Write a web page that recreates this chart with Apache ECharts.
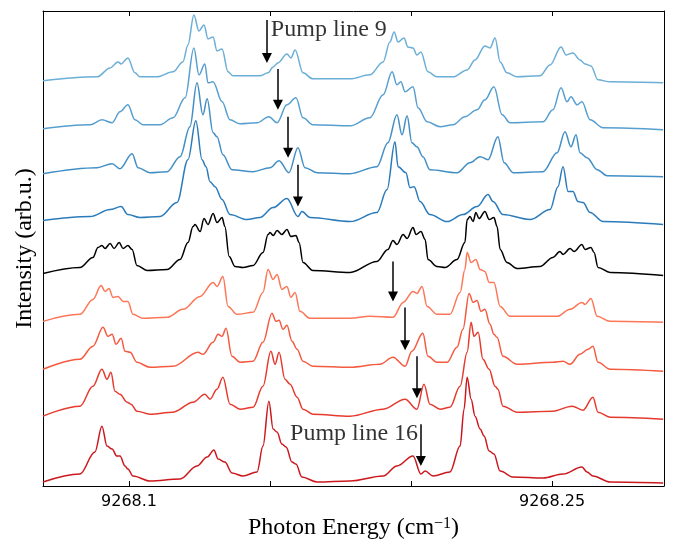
<!DOCTYPE html>
<html>
<head>
<meta charset="utf-8">
<script src="https://cdn.jsdelivr.net/npm/echarts@6/dist/echarts.min.js"></script>
<style>
html, body { margin: 0; padding: 0; background: #fff; }
#chart { width: 673px; height: 545px; }
</style>
</head>
<body>
<div id="chart"></div>
<script>
// spectra for each pump line, [photon energy (cm^-1), intensity (arb.u., offset per trace)]
let pump9 = [[9268.0695,406],[9268.0887,410],[9268.0933,419],[9268.0961,425],[9268.0972,423],[9268.0996,429],[9268.1021,414],[9268.1039,410],[9268.1099,410],[9268.1156,415],[9268.1191,425],[9268.1209,442],[9268.1230,472],[9268.1248,456],[9268.1266,462],[9268.1280,448],[9268.1298,450],[9268.1312,436],[9268.1330,438],[9268.1351,415],[9268.1369,411],[9268.1464,411],[9268.1493,414],[9268.1511,420],[9268.1528,424],[9268.1560,433],[9268.1574,429],[9268.1589,437],[9268.1617,414],[9268.1652,408],[9268.1784,408],[9268.1854,412],[9268.1901,425],[9268.1925,445],[9268.1940,455],[9268.1954,445],[9268.1975,449],[9268.1989,440],[9268.2007,439],[9268.2021,432],[9268.2035,435],[9268.2060,415],[9268.2092,410],[9268.2149,410],[9268.2199,417],[9268.2227,427],[9268.2262,441],[9268.2280,439],[9268.2298,449],[9268.2316,425],[9268.2340,414],[9268.2376,410],[9268.2457,411],[9268.2493,422],[9268.2532,440],[9268.2550,432],[9268.2574,434],[9268.2599,427],[9268.2617,423],[9268.2638,421],[9268.2663,407],[9268.2706,405],[9268.2894,404]];
let pump10 = [[9268.0695,358],[9268.0862,362],[9268.0904,367],[9268.0940,364],[9268.0968,375],[9268.0996,382],[9268.1021,367],[9268.1050,362],[9268.1110,362],[9268.1156,369],[9268.1199,389],[9268.1230,439],[9268.1248,412],[9268.1269,423],[9268.1280,404],[9268.1298,405],[9268.1330,385],[9268.1358,367],[9268.1394,363],[9268.1454,364],[9268.1496,370],[9268.1525,364],[9268.1560,382],[9268.1592,389],[9268.1617,369],[9268.1652,362],[9268.1784,361],[9268.1854,369],[9268.1901,392],[9268.1933,415],[9268.1950,402],[9268.1964,405],[9268.1979,395],[9268.2007,400],[9268.2025,379],[9268.2057,365],[9268.2103,360],[9268.2149,362],[9268.2191,370],[9268.2234,377],[9268.2262,387],[9268.2294,400],[9268.2323,372],[9268.2351,364],[9268.2468,365],[9268.2503,377],[9268.2532,399],[9268.2553,385],[9268.2567,390],[9268.2589,382],[9268.2606,385],[9268.2635,367],[9268.2681,359],[9268.2894,357]];
let pump11 = [[9268.0695,313],[9268.0887,319],[9268.0940,323],[9268.0968,318],[9268.1011,333],[9268.1032,319],[9268.1074,314],[9268.1135,315],[9268.1181,330],[9268.1216,360],[9268.1241,404],[9268.1262,372],[9268.1277,388],[9268.1298,354],[9268.1312,350],[9268.1333,332],[9268.1365,317],[9268.1440,315],[9268.1500,319],[9268.1532,326],[9268.1567,314],[9268.1599,339],[9268.1624,319],[9268.1667,314],[9268.1784,313],[9268.1879,320],[9268.1918,344],[9268.1950,372],[9268.1968,352],[9268.1986,371],[9268.2003,344],[9268.2021,340],[9268.2042,330],[9268.2067,317],[9268.2163,314],[9268.2209,324],[9268.2245,330],[9268.2273,327],[9268.2308,350],[9268.2330,324],[9268.2362,314],[9268.2468,315],[9268.2518,334],[9268.2546,355],[9268.2567,340],[9268.2585,352],[9268.2599,334],[9268.2624,329],[9268.2660,317],[9268.2695,311],[9268.2894,310]];
let pump12 = [[9268.0695,266],[9268.0862,270],[9268.0933,277],[9268.0972,280],[9268.0996,272],[9268.1039,269],[9268.1110,270],[9268.1170,284],[9268.1209,327],[9268.1237,366],[9268.1259,327],[9268.1273,320],[9268.1287,305],[9268.1305,300],[9268.1330,287],[9268.1358,272],[9268.1418,267],[9268.1464,269],[9268.1511,279],[9268.1560,288],[9268.1599,270],[9268.1613,275],[9268.1642,269],[9268.1784,265],[9268.1879,274],[9268.1915,297],[9268.1943,345],[9268.1954,320],[9268.1982,314],[9268.1996,299],[9268.2011,300],[9268.2032,285],[9268.2067,272],[9268.2128,265],[9268.2184,272],[9268.2234,280],[9268.2273,292],[9268.2291,285],[9268.2326,272],[9268.2422,267],[9268.2493,277],[9268.2521,300],[9268.2539,320],[9268.2557,295],[9268.2574,295],[9268.2592,285],[9268.2610,284],[9268.2635,274],[9268.2681,265],[9268.2894,262]];
let noPump = [[9268.0695,213],[9268.0826,219],[9268.0872,229],[9268.0890,239],[9268.0904,241],[9268.0915,238],[9268.0933,243],[9268.0947,238],[9268.0965,244],[9268.0979,238],[9268.0996,241],[9268.1011,237],[9268.1028,221],[9268.1064,216],[9268.1135,217],[9268.1181,227],[9268.1209,244],[9268.1227,260],[9268.1234,262],[9268.1252,255],[9268.1266,268],[9268.1280,262],[9268.1298,273],[9268.1312,264],[9268.1330,269],[9268.1340,260],[9268.1355,230],[9268.1376,220],[9268.1404,219],[9268.1440,221],[9268.1475,234],[9268.1493,252],[9268.1500,254],[9268.1511,251],[9268.1525,256],[9268.1542,252],[9268.1560,257],[9268.1574,250],[9268.1592,251],[9268.1603,244],[9268.1617,224],[9268.1652,216],[9268.1784,214],[9268.1879,225],[9268.1918,237],[9268.1936,246],[9268.1950,242],[9268.1972,252],[9268.1986,248],[9268.2007,259],[9268.2018,252],[9268.2035,255],[9268.2050,247],[9268.2060,227],[9268.2092,220],[9268.2121,219],[9268.2163,227],[9268.2191,244],[9268.2199,267],[9268.2209,270],[9268.2220,265],[9268.2230,274],[9268.2241,268],[9268.2262,275],[9268.2277,267],[9268.2294,269],[9268.2305,260],[9268.2316,237],[9268.2340,224],[9268.2376,218],[9268.2457,220],[9268.2503,229],[9268.2528,235],[9268.2539,232],[9268.2564,238],[9268.2578,235],[9268.2606,242],[9268.2617,237],[9268.2638,239],[9268.2649,234],[9268.2663,219],[9268.2706,214],[9268.2894,211]];
let pump13 = [[9268.0695,165],[9268.0826,172],[9268.0872,187],[9268.0901,201],[9268.0915,195],[9268.0929,198],[9268.0943,189],[9268.0961,190],[9268.0979,185],[9268.0996,185],[9268.1014,172],[9268.1050,168],[9268.1135,169],[9268.1191,177],[9268.1252,190],[9268.1298,204],[9268.1312,200],[9268.1333,210],[9268.1351,180],[9268.1383,172],[9268.1440,174],[9268.1475,194],[9268.1493,217],[9268.1511,207],[9268.1525,212],[9268.1542,197],[9268.1560,200],[9268.1574,189],[9268.1589,194],[9268.1606,175],[9268.1642,168],[9268.1784,168],[9268.1854,170],[9268.1936,169],[9268.1972,184],[9268.2007,195],[9268.2021,193],[9268.2039,200],[9268.2057,180],[9268.2092,172],[9268.2138,172],[9268.2174,194],[9268.2191,217],[9268.2199,234],[9268.2213,224],[9268.2230,227],[9268.2245,217],[9268.2262,215],[9268.2277,204],[9268.2294,204],[9268.2316,180],[9268.2351,170],[9268.2518,170],[9268.2564,177],[9268.2606,184],[9268.2617,182],[9268.2638,188],[9268.2660,170],[9268.2706,165],[9268.2894,164]];
let pump14 = [[9268.0695,117],[9268.0826,127],[9268.0872,140],[9268.0908,159],[9268.0925,150],[9268.0940,152],[9268.0954,142],[9268.0972,148],[9268.0986,135],[9268.1004,134],[9268.1028,124],[9268.1074,119],[9268.1156,120],[9268.1245,134],[9268.1262,132],[9268.1298,144],[9268.1316,152],[9268.1330,150],[9268.1344,158],[9268.1365,130],[9268.1394,124],[9268.1440,125],[9268.1475,144],[9268.1507,173],[9268.1521,165],[9268.1532,166],[9268.1546,157],[9268.1560,161],[9268.1578,145],[9268.1596,137],[9268.1617,125],[9268.1652,120],[9268.1784,119],[9268.1890,122],[9268.1936,129],[9268.1979,120],[9268.2003,135],[9268.2042,153],[9268.2060,130],[9268.2092,124],[9268.2128,124],[9268.2163,139],[9268.2184,157],[9268.2206,193],[9268.2220,184],[9268.2234,186],[9268.2248,175],[9268.2262,177],[9268.2280,162],[9268.2294,152],[9268.2305,149],[9268.2326,130],[9268.2376,122],[9268.2503,124],[9268.2539,125],[9268.2564,122],[9268.2599,132],[9268.2628,137],[9268.2645,140],[9268.2663,124],[9268.2706,117],[9268.2894,115]];
let pump15 = [[9268.0695,70],[9268.0826,80],[9268.0872,100],[9268.0904,117],[9268.0922,107],[9268.0936,114],[9268.0950,95],[9268.0968,92],[9268.0993,84],[9268.1007,82],[9268.1028,75],[9268.1074,72],[9268.1156,74],[9268.1227,84],[9268.1269,92],[9268.1287,87],[9268.1312,97],[9268.1333,109],[9268.1358,82],[9268.1394,77],[9268.1440,79],[9268.1475,100],[9268.1503,135],[9268.1518,122],[9268.1532,134],[9268.1553,107],[9268.1571,102],[9268.1596,89],[9268.1617,77],[9268.1652,72],[9268.1784,70],[9268.1901,77],[9268.1979,87],[9268.2021,77],[9268.2046,102],[9268.2067,82],[9268.2103,77],[9268.2138,79],[9268.2174,100],[9268.2199,134],[9268.2213,164],[9268.2223,150],[9268.2238,154],[9268.2255,127],[9268.2277,117],[9268.2298,100],[9268.2308,97],[9268.2326,80],[9268.2376,74],[9268.2503,75],[9268.2571,80],[9268.2610,76],[9268.2645,89],[9268.2663,74],[9268.2706,69],[9268.2894,67]];
let pump16 = [[9268.0695,4],[9268.0826,12],[9268.0879,34],[9268.0904,60],[9268.0922,40],[9268.0940,37],[9268.0957,30],[9268.0968,30],[9268.0986,20],[9268.0996,17],[9268.1014,10],[9268.1074,5],[9268.1181,7],[9268.1241,20],[9268.1277,29],[9268.1301,36],[9268.1316,27],[9268.1340,24],[9268.1365,13],[9268.1404,10],[9268.1454,14],[9268.1475,40],[9268.1496,85],[9268.1511,57],[9268.1525,54],[9268.1542,42],[9268.1557,39],[9268.1578,24],[9268.1592,22],[9268.1613,9],[9268.1667,4],[9268.1784,5],[9268.1901,10],[9268.1950,20],[9268.2007,30],[9268.2035,12],[9268.2050,15],[9268.2078,10],[9268.2138,14],[9268.2174,40],[9268.2188,77],[9268.2199,109],[9268.2213,87],[9268.2227,70],[9268.2245,57],[9268.2259,50],[9268.2277,35],[9268.2294,32],[9268.2316,15],[9268.2362,9],[9268.2468,8],[9268.2539,12],[9268.2606,19],[9268.2624,14],[9268.2645,10],[9268.2706,4],[9268.2894,3]];

let traceNames = ['line 9', 'line 10', 'line 11', 'line 12', 'no pump', 'line 13', 'line 14', 'line 15', 'line 16'];
let traceData = [pump9, pump10, pump11, pump12, noPump, pump13, pump14, pump15, pump16];
let traceColors = ['#6baed6', '#579fd0', '#428fc5', '#2b7bba', '#000000', '#fc7657', '#f55a40', '#e63a2e', '#cb181d'];

// pump position arrows: [energy, from, to]
let pumpArrows = [[9268.1489,467,429],[9268.1528,418,382],[9268.1564,370,334],[9268.1599,322,285],[9268.1936,225,190],[9268.1979,179,141],[9268.2021,130,93],[9268.2035,62,25]];
let pumpLabels = [
    {name: 'Pump line 9', value: [9268.1503, 457], side: 'right'},
    {name: 'Pump line 16', value: [9268.2025, 52], side: 'left'}
];

let tickPositions = [9268.1, 9268.15, 9268.2, 9268.25];
let tickValues = [9268.1, 9268.25];
let tickLabels = ['9268.1', '9268.25'];

let xMin = 9268.0695;
let xMax = 9268.2897;

let Chart_spec = echarts.init(document.getElementById('chart'));

let series = traceData.map(function (d, i) {
    return {
        name: traceNames[i],
        type: 'line',
        data: d,
        showSymbol: false,
        smooth: 0.35,
        smoothMonotone: 'x',
        lineStyle: {color: traceColors[i], width: 1.5},
        itemStyle: {color: traceColors[i]},
        silent: true
    };
});

series.push({
    name: 'pump',
    type: 'scatter',
    symbolSize: 0,
    silent: true,
    data: pumpLabels.map(function (p) {
        return {
            name: p.name,
            value: p.value,
            label: {
                show: true,
                position: p.side,
                distance: 0,
                formatter: '{b}',
                color: '#000',
                fontFamily: 'Liberation Serif',
                fontSize: 24
            }
        };
    }),
    markLine: {
        silent: true,
        animation: false,
        symbol: ['none', 'triangle'],
        symbolSize: 10,
        label: {show: false},
        lineStyle: {color: '#000', width: 1.5, type: 'solid'},
        data: pumpArrows.map(function (a) {
            return [{coord: [a[0], a[1]]}, {coord: [a[0], a[2]]}];
        })
    }
});

let tickStyle = {inside: true, length: 5, customValues: tickPositions, lineStyle: {color: '#000', width: 1}};

option1 = {
    animation: false,
    backgroundColor: '#fff',
    grid: {left: 43, right: 9, top: 11, bottom: 58},
    xAxis: [
        {
            type: 'value',
            position: 'bottom',
            min: xMin,
            max: xMax,
            name: 'Photon Energy (cm{sup|\u22121})',
            nameLocation: 'middle',
            nameGap: 30,
            nameTextStyle: {
                fontFamily: 'Liberation Serif', fontSize: 24, color: '#000',
                rich: {sup: {fontFamily: 'Liberation Serif', fontSize: 16, color: '#000', verticalAlign: 'top', padding: [0, 0, 8, 0]}}
            },
            axisLine: {onZero: false, lineStyle: {color: '#000', width: 1}},
            axisTick: tickStyle,
            splitLine: {show: false},
            axisLabel: {
                color: '#000',
                fontFamily: 'DejaVu Sans',
                fontSize: 16,
                margin: 8,
                customValues: tickValues,
                formatter: function (v) {
                    let k = tickValues.indexOf(parseFloat(v.toFixed(4)));
                    return k < 0 ? '' : tickLabels[k];
                }
            }
        },
        {
            type: 'value',
            position: 'top',
            min: xMin,
            max: xMax,
            axisLine: {onZero: false, lineStyle: {color: '#000', width: 1}},
            axisTick: tickStyle,
            splitLine: {show: false},
            axisLabel: {show: false}
        }
    ],
    yAxis: [
        {
            type: 'value',
            min: 0,
            max: 476,
            name: 'Intensity (arb.u.)',
            nameLocation: 'middle',
            nameGap: 6,
            nameTextStyle: {fontFamily: 'Liberation Serif', fontSize: 24, color: '#000'},
            axisLine: {show: true, onZero: false, lineStyle: {color: '#000', width: 1}},
            axisTick: {show: false},
            axisLabel: {show: false},
            splitLine: {show: false}
        },
        {
            type: 'value',
            position: 'right',
            min: 0,
            max: 476,
            axisLine: {show: true, onZero: false, lineStyle: {color: '#000', width: 1}},
            axisTick: {show: false},
            axisLabel: {show: false},
            splitLine: {show: false}
        }
    ],
    series: series
};

Chart_spec.setOption(option1);
</script>
</body>
</html>
